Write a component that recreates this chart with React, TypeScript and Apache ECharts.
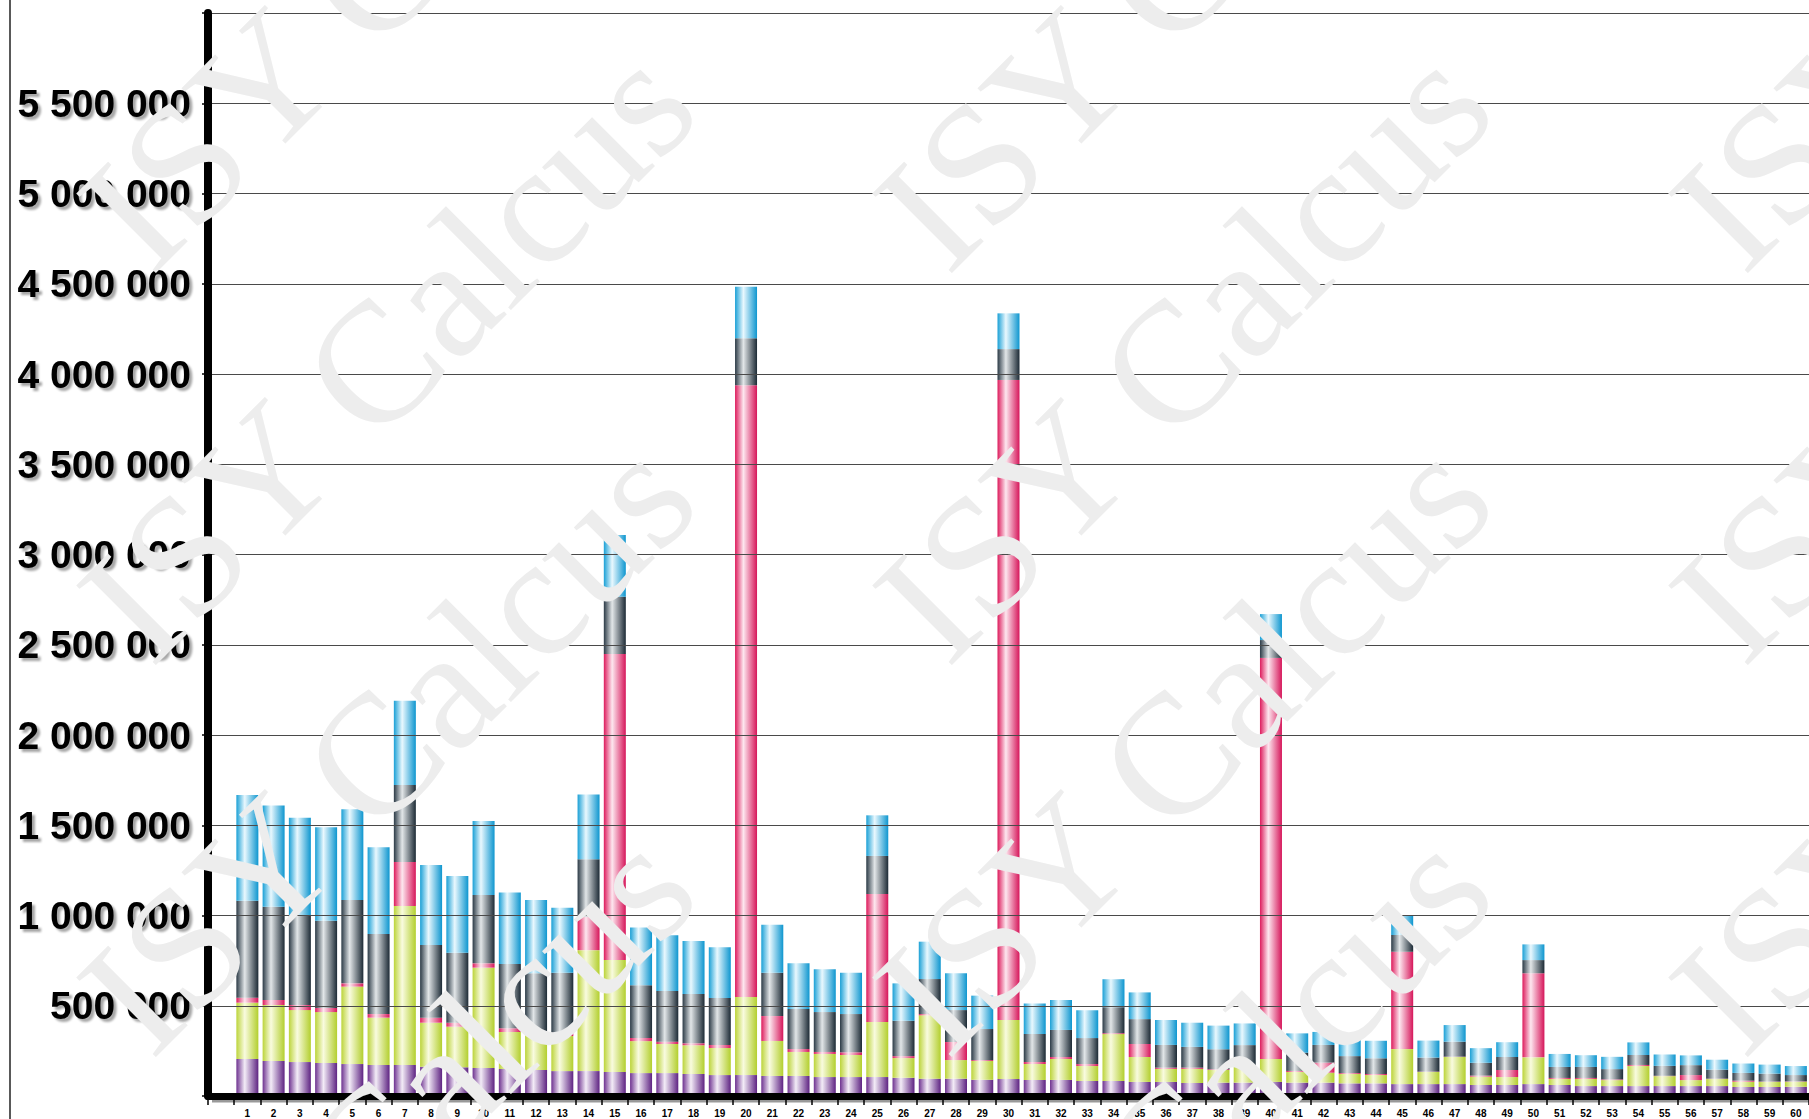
import React, { useEffect, useRef } from "react";
import * as echarts from "echarts";

// Category labels (1..60)
const categories = [
  "1","2","3","4","5","6","7","8","9","10",
  "11","12","13","14","15","16","17","18","19","20",
  "21","22","23","24","25","26","27","28","29","30",
  "31","32","33","34","35","36","37","38","39","40",
  "41","42","43","44","45","46","47","48","49","50",
  "51","52","53","54","55","56","57","58","59","60",
];

// Values in thousands, bottom to top of each stack
const purpleSeries = [
  205,194,188,183,177,172,172,162,159,155,
  150,144,138,138,133,127,127,122,116,116,
  111,111,105,105,105,101,96,96,90,94,
  89,89,83,83,78,78,72,74,74,78,
  74,74,70,70,66,66,66,61,61,66,
  61,55,55,55,55,55,55,50,50,51,
];
const greenSeries = [
  312,310,288,282,429,262,881,244,225,556,
  205,200,194,670,620,177,161,159,150,432,
  194,133,128,122,305,109,351,103,104,327,
  88,116,83,260,138,72,78,70,88,127,
  59,55,52,46,194,67,150,46,44,148,
  33,39,33,111,55,33,39,29,28,28,
];
const pinkSeries = [
  28,28,28,23,18,20,243,28,22,24,
  20,16,19,184,1696,18,13,11,17,3390,
  138,16,11,15,709,11,7,100,5,3546,
  11,11,11,5,72,7,7,4,6,2222,
  6,56,5,6,539,2,2,6,39,466,
  6,6,4,6,2,28,2,6,2,2,
];
const graySeries = [
  537,517,495,483,462,444,427,403,388,378,
  356,320,332,320,317,292,281,273,260,260,
  240,222,221,212,211,196,194,177,172,171,
  155,150,144,144,138,126,115,111,114,99,
  101,98,94,87,93,78,83,71,72,73,
  61,61,57,55,55,55,50,43,44,35,
];
const blueSeries = [
  586,561,543,518,502,480,467,443,425,410,
  397,406,360,358,342,320,308,294,281,285,
  266,253,237,229,225,207,207,204,185,198,
  170,166,154,155,148,138,134,131,120,144,
  107,72,100,97,107,94,92,81,82,87,
  72,65,68,70,63,54,55,52,50,50,
];

// y axis ticks (thousands)
const yMin = 0;
const yMax = 6000;
const yStep = 500;

const fmtLabel = (v: number) => {
  if (v === yMin || v === yMax) return "";
  return String(v * 1000).replace(/\B(?=(\d{3})+(?!\d))/g, " ");
};

const grad = (l: string, m: string, r: string) =>
  new echarts.graphic.LinearGradient(0, 0, 1, 0, [
    { offset: 0, color: l },
    { offset: 0.38, color: m },
    { offset: 1, color: r },
  ]);

export default function App() {
  const ref = useRef<HTMLDivElement>(null);
  useEffect(() => {
    if (!ref.current) return;
    const chart = echarts.init(ref.current, null, { renderer: "svg" });
    const cats = ["", ...categories];
    const mk = (name: string, data: number[], color: any) => ({
      name,
      type: "bar",
      stack: "total",
      data: [null, ...data],
      barWidth: 22,
      itemStyle: { color },
      emphasis: { disabled: true },
    });

    const wmX = [387, 1183, 1979];
    const wmY = [-40, 352, 744, 1136];
    const watermarks: any[] = [];
    wmX.forEach((x) =>
      wmY.forEach((y) =>
        watermarks.push({
          type: "text",
          x,
          y,
          rotation: Math.PI / 4,
          z: 100,
          silent: true,
          style: {
            text: "ISY Calcus",
            font: '172px "Liberation Serif", "DejaVu Serif", serif',
            fill: "#ededed",
            align: "center",
            verticalAlign: "middle",
            textAlign: "center",
            textVerticalAlign: "middle",
            shadowColor: "rgba(0,0,0,0.12)",
            shadowBlur: 2,
            shadowOffsetX: 2,
            shadowOffsetY: 2,
          },
        })
      )
    );

    chart.setOption({
      animation: false,
      backgroundColor: "#ffffff",
      grid: { left: 208, top: 13, width: 1616, height: 1083 },
      xAxis: {
        type: "category",
        data: cats,
        z: 10,
        axisLine: {
          show: true,
          onZero: false,
          lineStyle: { color: "#000", width: 7 },
        },
        axisTick: { show: true, interval: 0, length: 9, lineStyle: { color: "#000", width: 1.5 } },
        axisLabel: {
          interval: 0,
          fontSize: 10,
          fontWeight: "bold",
          fontFamily: '"Liberation Sans", Arial, sans-serif',
          color: "#000",
          margin: 12,
        },
        splitLine: { show: false },
      },
      yAxis: {
        type: "value",
        min: yMin,
        max: yMax,
        interval: yStep,
        z: 10,
        axisLine: {
          show: true,
          lineStyle: { color: "#000", width: 8 },
        },
        axisTick: { show: true, length: 6, lineStyle: { color: "#000", width: 1.5 } },
        axisLabel: {
          formatter: fmtLabel,
          fontSize: 39,
          fontWeight: "bold",
          fontFamily: '"Liberation Sans", Arial, sans-serif',
          color: "#000",
          margin: 17,
          textShadowColor: "rgba(0,0,0,0.35)",
          textShadowOffsetX: 3,
          textShadowOffsetY: 3,
          textShadowBlur: 2,
        },
        splitLine: { show: true, lineStyle: { color: "#4a4a4a", width: 1.2 } },
      },
      series: [
        mk("A", purpleSeries, grad("#6e3290", "#f3ecf7", "#5e2382")),
        mk("B", greenSeries, grad("#bcd43a", "#f9fbdf", "#b3cf2e")),
        mk("C", pinkSeries, grad("#dd1b5c", "#fde7ef", "#d6165a")),
        mk("D", graySeries, grad("#2b3a46", "#e2e6e8", "#1c2a35")),
        mk("E", blueSeries, grad("#1aa0d6", "#e9f8fe", "#0e96cf")),
      ],
      graphic: [
        {
          type: "line",
          z: 50,
          silent: true,
          shape: { x1: 10, y1: 0, x2: 10, y2: 1119 },
          style: { stroke: "#222", lineWidth: 1.5 },
        },
        {
          type: "line",
          z: 0,
          silent: true,
          shape: { x1: 212, y1: 1101, x2: 1809, y2: 1101 },
          style: { stroke: "#999", lineWidth: 3 },
        },
        ...watermarks,
      ],
    });
    return () => chart.dispose();
  }, []);
  return (
    <div
      ref={ref}
      style={{ position: "fixed", left: 0, top: 0, width: 1809, height: 1119, overflow: "hidden" }}
    />
  );
}
